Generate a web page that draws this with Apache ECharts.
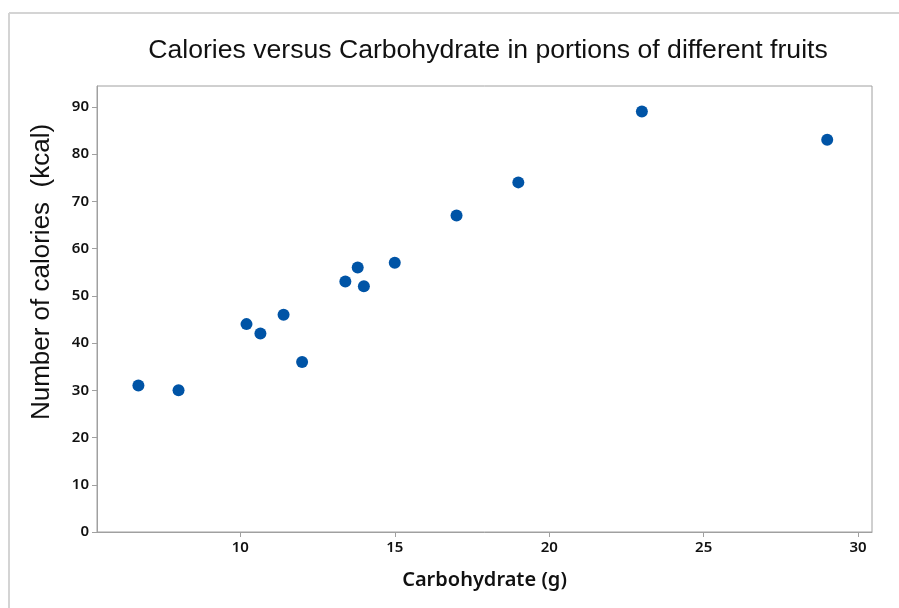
<!DOCTYPE html>
<html>
<head>
<meta charset="utf-8">
<script src="https://cdn.jsdelivr.net/npm/echarts@6/dist/echarts.min.js"></script>
<style>
  html, body { margin: 0; padding: 0; background: #fff; }
  #chart { width: 899px; height: 608px; }
</style>
</head>
<body>
<div id="chart"></div>
<script>
// carbohydrate (g) per portion
const carbs = [6.7, 8.0, 10.2, 10.65, 11.4, 12.0, 13.4, 13.8, 14.0, 15.0, 17.0, 19.0, 23.0, 29.0]
// calories (kcal) per portion
const calories = [31, 30, 44, 42, 46, 36, 53, 56, 52, 57, 67, 74, 89, 83]
const xTicks = [10, 15, 20, 25, 30]
const yTicks = [0, 10, 20, 30, 40, 50, 60, 70, 80, 90]

const points = carbs.map((c, i) => [c, calories[i]])
const chart = echarts.init(document.getElementById('chart'))

const axisGray = '#a0a0a0'
const tickFont = { color: '#111', fontSize: 15, fontWeight: 600, fontFamily: 'Noto Sans' }

chart.setOption({
  animation: false,
  backgroundColor: '#fff',
  title: {
    text: 'Calories versus Carbohydrate in portions of different fruits',
    left: 483,
    top: 32,
    textAlign: 'center',
    textStyle: { fontFamily: 'Liberation Sans', fontWeight: 'normal', fontSize: 26.6, color: '#111' }
  },
  // outer frame (top + left edge only visible)
  graphic: [
    { type: 'line', shape: { x1: 9, y1: 13, x2: 899, y2: 13 }, style: { stroke: '#d4d4d4', lineWidth: 2 } },
    { type: 'line', shape: { x1: 9, y1: 13, x2: 9, y2: 608 }, style: { stroke: '#d4d4d4', lineWidth: 2 } },
    {
      type: 'text',
      x: 42, y: 272,
      rotation: Math.PI / 2,
      style: {
        text: 'Number of calories  (kcal)',
        fontFamily: 'Liberation Sans', fontSize: 26, fill: '#111',
        align: 'center', verticalAlign: 'middle'
      }
    }
  ],
  grid: {
    left: 97, right: 27, top: 86, bottom: 76,
    show: true, borderColor: axisGray, borderWidth: 1, backgroundColor: '#fff'
  },
  xAxis: {
    type: 'value',
    min: 5.36,
    max: 30.45,
    name: 'Carbohydrate (g)',
    nameLocation: 'middle',
    nameGap: 38,
    nameTextStyle: { fontFamily: 'Noto Sans', fontSize: 20, fontWeight: 600, color: '#111' },
    splitLine: { show: false },
    axisLine: { lineStyle: { color: axisGray } },
    axisTick: { customValues: xTicks, length: 5, lineStyle: { color: axisGray } },
    axisLabel: { customValues: xTicks, margin: 8, ...tickFont }
  },
  yAxis: {
    type: 'value',
    min: 0,
    max: 94.4,
    splitLine: { show: false },
    axisLine: { show: true, lineStyle: { color: axisGray } },
    axisTick: { show: true, customValues: yTicks, length: 5, lineStyle: { color: axisGray } },
    axisLabel: { customValues: yTicks, margin: 8, ...tickFont }
  },
  series: [
    {
      type: 'scatter',
      data: points,
      symbol: 'circle',
      symbolSize: 12,
      itemStyle: { color: '#0054a6', opacity: 1 }
    }
  ]
})
</script>
</body>
</html>
